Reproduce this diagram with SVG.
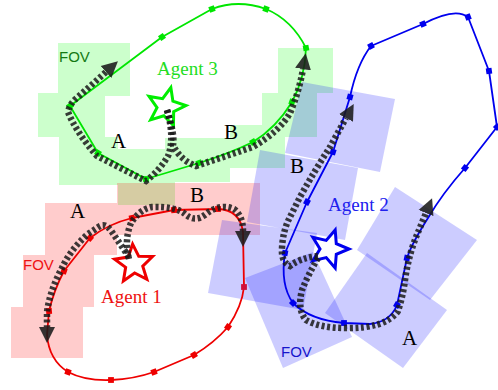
<svg xmlns="http://www.w3.org/2000/svg" xmlns:xlink="http://www.w3.org/1999/xlink" width="498" height="390" viewBox="0 0 498 390">
<style>
.fovg{fill:#00ff00;fill-opacity:0.2}
.fovr{fill:#ff0000;fill-opacity:0.2}
.fovb{fill:#0000ff;fill-opacity:0.2}
.loop{fill:none;stroke-width:1.8;stroke-linejoin:round}
.dash{fill:none;stroke:#1a1a1a;stroke-opacity:0.85;stroke-width:6.5;stroke-dasharray:3 2.6;marker-end:url(#ah)}
.star{fill:#fff;stroke-width:3;stroke-linejoin:miter}
.lbl{font-family:"Liberation Serif",serif;font-size:21px;fill:#000}
.agent{font-family:"Liberation Serif",serif;font-size:19px}
.fov{font-family:"Liberation Sans",sans-serif;font-size:15px}
</style>
<defs>
<marker id="ah" markerUnits="userSpaceOnUse" markerWidth="18" markerHeight="18" refX="0" refY="9" orient="auto" viewBox="0 0 18 18"><path d="M0,1 L16,9 L0,17 Z" fill="#1a1a1a" fill-opacity="0.88"/></marker>
<path id="star" d="M0,-20 L5.29,-7.28 L19.02,-6.18 L8.56,2.78 L11.76,16.18 L0,9 L-11.76,16.18 L-8.56,2.78 L-19.02,-6.18 L-5.29,-7.28 Z"/>
<rect id="mk" x="-2.9" y="-2.9" width="5.8" height="5.8"/>
</defs>

<g id="fov-agent3">
<path class="fovg" d="M58,43H130V96H58Z M38,93H105V137H38Z M59,137H118V185H59Z M118,149H175V205H118Z M165,138H230V182H165Z M230,125H285V168H230Z M262,93H317V137H262Z M278,48H333V93H278Z"/>
</g>
<g id="fov-agent1">
<path class="fovr" d="M45,203H117V255H45Z M117,183H188V235H117Z M188,183H260V235H188Z M23,255H94V307H23Z M11,307H83V358H11Z"/>
</g>
<g id="fov-agent2">
<polygon class="fovb" points="302,82 395,99 380,172 285,153"/>
<polygon class="fovb" points="260,150 358,168 345,240 247,222"/>
<polygon class="fovb" points="222,220 317,233 303,310 208,293"/>
<polygon class="fovb" points="245,278 313,252 352,337 283,368"/>
<polygon class="fovb" points="325,313 367,253 447,310 403,368"/>
<polygon class="fovb" points="357,250 395,187 477,240 430,300"/>
</g>

<g id="trajectory-agent3">
<path class="loop" stroke="#00e600" d="M70,106 L162,37 L212,9 Q238,-1 266,9 Q292,20 306,48 Q305,78 292,102 Q276,128 253,142 Q228,154 199,163 L146,179 L98,153 Z"/>
<g fill="#00e600">
<use xlink:href="#mk" transform="translate(70,106) rotate(-37)"/>
<use xlink:href="#mk" transform="translate(162,37) rotate(-35)"/>
<use xlink:href="#mk" transform="translate(212,9) rotate(-20)"/>
<use xlink:href="#mk" transform="translate(266,9) rotate(20)"/>
<use xlink:href="#mk" transform="translate(306,48) rotate(80)"/>
<use xlink:href="#mk" transform="translate(292,102) rotate(20)"/>
<use xlink:href="#mk" transform="translate(253,142) rotate(-30)"/>
<use xlink:href="#mk" transform="translate(199,163) rotate(-18)"/>
<use xlink:href="#mk" transform="translate(146,179) rotate(0)"/>
<use xlink:href="#mk" transform="translate(98,153) rotate(30)"/>
</g>
</g>

<g id="trajectory-agent1">
<path class="loop" stroke="#ee0000" d="M132,218 L174,210 L218,209 Q240,210 243,232 L244,287 Q242,306 228,327 Q214,343 194,355 L154,372 Q134,379 111,380 Q85,381 68,372 Q49,360 47,335 L49,311 Q54,290 64,271 L90,238 Q108,224 132,218 Z"/>
<g fill="#ee0000">
<use xlink:href="#mk" transform="translate(132,218) rotate(-12)"/>
<use xlink:href="#mk" transform="translate(174,210) rotate(-5)"/>
<use xlink:href="#mk" transform="translate(218,209)"/>
<use xlink:href="#mk" transform="translate(244,287)" fill="#d0103a"/>
<use xlink:href="#mk" transform="translate(228,327) rotate(35)"/>
<use xlink:href="#mk" transform="translate(194,355) rotate(-30)"/>
<use xlink:href="#mk" transform="translate(154,372) rotate(-20)"/>
<use xlink:href="#mk" transform="translate(111,380)"/>
<use xlink:href="#mk" transform="translate(68,372) rotate(20)"/>
<use xlink:href="#mk" transform="translate(49,311) rotate(-5)"/>
<use xlink:href="#mk" transform="translate(64,271) rotate(20)"/>
<use xlink:href="#mk" transform="translate(90,238) rotate(40)"/>
</g>
</g>

<g id="trajectory-agent2">
<path class="loop" stroke="#0000ee" stroke-width="2" d="M497,127 L465,168 Q442,194 428,218 Q412,243 407,258 L397,305 Q390,322 370,324 L344,323 Q310,320 293,303 Q280,285 285,253 L307,202 L333,152 L350,97 Q357,64 371,46 L423,24 Q455,7 468,17 L489,71 L497,127"/>
<g fill="#0000ee">
<use xlink:href="#mk" transform="translate(371,46) rotate(-27)"/>
<use xlink:href="#mk" transform="translate(423,24) rotate(-23)"/>
<use xlink:href="#mk" transform="translate(468,17) rotate(69)"/>
<use xlink:href="#mk" transform="translate(489,71) rotate(82)"/>
<use xlink:href="#mk" transform="translate(497,127) rotate(45)"/>
<use xlink:href="#mk" transform="translate(465,168) rotate(38)"/>
<use xlink:href="#mk" transform="translate(407,258) rotate(12)"/>
<use xlink:href="#mk" transform="translate(397,305) rotate(30)"/>
<use xlink:href="#mk" transform="translate(344,323)"/>
<use xlink:href="#mk" transform="translate(293,303) rotate(45)"/>
<use xlink:href="#mk" transform="translate(285,253) rotate(10)"/>
<use xlink:href="#mk" transform="translate(307,202) rotate(28)"/>
<use xlink:href="#mk" transform="translate(333,152) rotate(17)"/>
<use xlink:href="#mk" transform="translate(350,97) rotate(15)"/>
</g>
</g>

<g id="agent3">
<use xlink:href="#star" class="star" stroke="#00ee00" transform="translate(166,107) rotate(14)"/>
<text class="agent" x="157" y="75" fill="#22dd22">Agent 3</text>
<text class="fov" x="59" y="62" fill="#137a13">FOV</text>
</g>
<g id="agent1">
<use xlink:href="#star" class="star" stroke="#ee0000" transform="translate(134,264) rotate(-4)"/>
<text class="agent" x="101" y="303" fill="#ee1111">Agent 1</text>
<text class="fov" x="23" y="270" fill="#ee1111">FOV</text>
</g>
<g id="agent2">
<use xlink:href="#star" class="star" stroke="#0000ee" transform="translate(329,249) rotate(18)"/>
<text class="agent" x="328" y="211" fill="#2020ee">Agent 2</text>
<text class="fov" x="281" y="357" fill="#1515cc">FOV</text>
</g>

<g id="connectors">
<path id="a3-A" class="dash" d="M167,110 Q175,138 168,156 Q160,170 146,181 L97,156 Q76,132 68,112 Q70,103 78,97 L106,72"/>
<path id="a3-B" class="dash" stroke-opacity="0.72" d="M167,110 Q175,135 173,145 Q180,160 196,166 L253,147 Q280,131 290,113 Q299,92 303,69"/>
<path id="a1-A" class="dash" d="M129,257 L112,232 Q106,223 100,226 L88,234 Q70,250 62,268 Q50,290 47,312 L47,327"/>
<path id="a1-B" class="dash" d="M129,259 Q124,240 131,223 Q140,209 152,207 Q175,206 185,214 Q195,223 206,214 Q220,203 234,209 Q243,216 243,231"/>
<path id="a2-A" class="dash" d="M318,258 Q308,275 302,290 Q297,310 306,320 Q320,328 345,328 Q385,329 398,311 Q403,296 405,280 Q409,252 419,230 L426,213"/>
<path id="a2-B" class="dash" d="M318,256 Q300,258 290,266 Q281,262 282,248 Q283,230 290,217 L300,197 Q315,170 330,147 L346,118"/>
</g>

<g id="labels">
<text class="lbl" x="111" y="148">A</text>
<text class="lbl" x="224" y="139">B</text>
<text class="lbl" x="70" y="218">A</text>
<text class="lbl" x="190" y="202">B</text>
<text class="lbl" x="290" y="173">B</text>
<text class="lbl" x="402" y="345">A</text>
</g>
</svg>
